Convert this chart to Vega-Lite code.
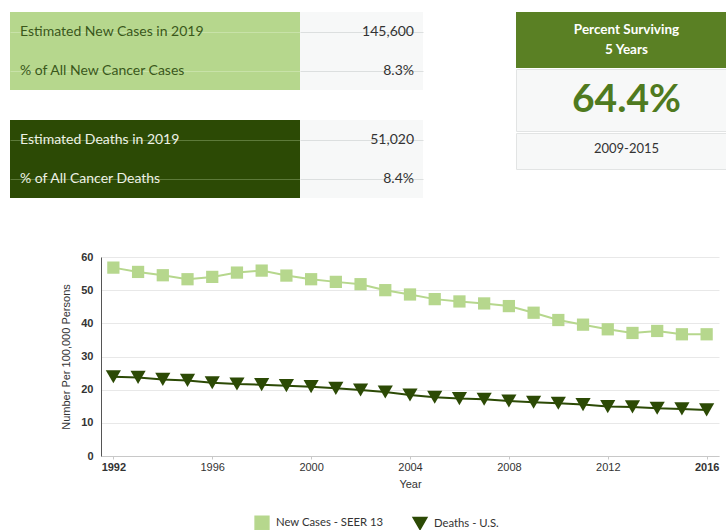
{
  "$schema": "https://vega.github.io/schema/vega-lite/v6.json",
  "background": "white",
  "padding": {"left": 10, "top": 12, "right": 0, "bottom": 0},
  "config": {"view": {"stroke": null}, "font": "Lato"},
  "datasets": {
    "cases": [
      {"label": "Estimated New Cases in 2019", "value": "145,600"},
      {"label": "% of All New Cancer Cases", "value": "8.3%"}
    ],
    "deaths": [
      {"label": "Estimated Deaths in 2019", "value": "51,020"},
      {"label": "% of All Cancer Deaths", "value": "8.4%"}
    ],
    "survival": [
      {"heading": "Percent Surviving\n5 Years", "rate": "64.4%", "period": "2009-2015"}
    ],
    "trend": [
      {"year": 1992, "series": "New Cases - SEER 13", "rate": 56.8},
      {"year": 1993, "series": "New Cases - SEER 13", "rate": 55.5},
      {"year": 1994, "series": "New Cases - SEER 13", "rate": 54.5},
      {"year": 1995, "series": "New Cases - SEER 13", "rate": 53.3},
      {"year": 1996, "series": "New Cases - SEER 13", "rate": 54.0},
      {"year": 1997, "series": "New Cases - SEER 13", "rate": 55.3},
      {"year": 1998, "series": "New Cases - SEER 13", "rate": 55.9},
      {"year": 1999, "series": "New Cases - SEER 13", "rate": 54.4},
      {"year": 2000, "series": "New Cases - SEER 13", "rate": 53.3},
      {"year": 2001, "series": "New Cases - SEER 13", "rate": 52.5},
      {"year": 2002, "series": "New Cases - SEER 13", "rate": 51.8},
      {"year": 2003, "series": "New Cases - SEER 13", "rate": 50.0},
      {"year": 2004, "series": "New Cases - SEER 13", "rate": 48.7},
      {"year": 2005, "series": "New Cases - SEER 13", "rate": 47.3},
      {"year": 2006, "series": "New Cases - SEER 13", "rate": 46.6},
      {"year": 2007, "series": "New Cases - SEER 13", "rate": 46.0},
      {"year": 2008, "series": "New Cases - SEER 13", "rate": 45.2},
      {"year": 2009, "series": "New Cases - SEER 13", "rate": 43.2},
      {"year": 2010, "series": "New Cases - SEER 13", "rate": 41.0},
      {"year": 2011, "series": "New Cases - SEER 13", "rate": 39.6},
      {"year": 2012, "series": "New Cases - SEER 13", "rate": 38.2},
      {"year": 2013, "series": "New Cases - SEER 13", "rate": 37.1},
      {"year": 2014, "series": "New Cases - SEER 13", "rate": 37.7},
      {"year": 2015, "series": "New Cases - SEER 13", "rate": 36.7},
      {"year": 2016, "series": "New Cases - SEER 13", "rate": 36.7},
      {"year": 1992, "series": "Deaths - U.S.", "rate": 23.9},
      {"year": 1993, "series": "Deaths - U.S.", "rate": 23.7},
      {"year": 1994, "series": "Deaths - U.S.", "rate": 23.1},
      {"year": 1995, "series": "Deaths - U.S.", "rate": 22.8},
      {"year": 1996, "series": "Deaths - U.S.", "rate": 22.1},
      {"year": 1997, "series": "Deaths - U.S.", "rate": 21.7},
      {"year": 1998, "series": "Deaths - U.S.", "rate": 21.5},
      {"year": 1999, "series": "Deaths - U.S.", "rate": 21.2},
      {"year": 2000, "series": "Deaths - U.S.", "rate": 20.9},
      {"year": 2001, "series": "Deaths - U.S.", "rate": 20.4},
      {"year": 2002, "series": "Deaths - U.S.", "rate": 19.9},
      {"year": 2003, "series": "Deaths - U.S.", "rate": 19.3},
      {"year": 2004, "series": "Deaths - U.S.", "rate": 18.4},
      {"year": 2005, "series": "Deaths - U.S.", "rate": 17.7},
      {"year": 2006, "series": "Deaths - U.S.", "rate": 17.3},
      {"year": 2007, "series": "Deaths - U.S.", "rate": 17.1},
      {"year": 2008, "series": "Deaths - U.S.", "rate": 16.6},
      {"year": 2009, "series": "Deaths - U.S.", "rate": 16.2},
      {"year": 2010, "series": "Deaths - U.S.", "rate": 15.9},
      {"year": 2011, "series": "Deaths - U.S.", "rate": 15.5},
      {"year": 2012, "series": "Deaths - U.S.", "rate": 14.9},
      {"year": 2013, "series": "Deaths - U.S.", "rate": 14.8},
      {"year": 2014, "series": "Deaths - U.S.", "rate": 14.4},
      {"year": 2015, "series": "Deaths - U.S.", "rate": 14.2},
      {"year": 2016, "series": "Deaths - U.S.", "rate": 13.9}
    ]
  },
  "spacing": 53,
  "vconcat": [
    {
      "spacing": 92,
      "hconcat": [
        {
          "spacing": 30,
          "vconcat": [
            {
              "spacing": 0,
              "hconcat": [
                {
                  "width": 290, "height": 78,
                  "data": {"name": "cases"},
                  "view": {"fill": "#b6d78d", "stroke": null},
                  "mark": {"type": "text", "align": "left", "baseline": "middle", "x": 0, "dx": 10, "fontSize": 14, "color": "#3a571b", "font": "Lato"},
                  "encoding": {
                    "y": {"field": "label", "type": "nominal", "sort": null, "scale": {"paddingInner": 0, "paddingOuter": 0},
                      "axis": {"title": null, "labels": false, "ticks": false, "domain": false, "grid": true, "gridColor": "#c8e2a8", "bandPosition": 1}},
                    "text": {"field": "label"}
                  }
                },
                {
                  "width": 123, "height": 78,
                  "data": {"name": "cases"},
                  "view": {"fill": "#f7f8f8", "stroke": null},
                  "mark": {"type": "text", "align": "right", "baseline": "middle", "x": 123, "dx": -9, "fontSize": 14, "color": "#333333", "font": "Lato"},
                  "encoding": {
                    "y": {"field": "label", "type": "nominal", "sort": null, "scale": {"paddingInner": 0, "paddingOuter": 0},
                      "axis": {"title": null, "labels": false, "ticks": false, "domain": false, "grid": true, "gridColor": "#dcdfdf", "bandPosition": 1}},
                    "text": {"field": "value"}
                  }
                }
              ]
            },
            {
              "spacing": 0,
              "hconcat": [
                {
                  "width": 290, "height": 78,
                  "data": {"name": "deaths"},
                  "view": {"fill": "#2c4a05", "stroke": null},
                  "mark": {"type": "text", "align": "left", "baseline": "middle", "x": 0, "dx": 10, "fontSize": 14, "color": "#eef2e6", "font": "Lato"},
                  "encoding": {
                    "y": {"field": "label", "type": "nominal", "sort": null, "scale": {"paddingInner": 0, "paddingOuter": 0},
                      "axis": {"title": null, "labels": false, "ticks": false, "domain": false, "grid": true, "gridColor": "#5d7a3a", "bandPosition": 1}},
                    "text": {"field": "label"}
                  }
                },
                {
                  "width": 123, "height": 78,
                  "data": {"name": "deaths"},
                  "view": {"fill": "#f7f8f8", "stroke": null},
                  "mark": {"type": "text", "align": "right", "baseline": "middle", "x": 123, "dx": -9, "fontSize": 14, "color": "#333333", "font": "Lato"},
                  "encoding": {
                    "y": {"field": "label", "type": "nominal", "sort": null, "scale": {"paddingInner": 0, "paddingOuter": 0},
                      "axis": {"title": null, "labels": false, "ticks": false, "domain": false, "grid": true, "gridColor": "#dcdfdf", "bandPosition": 1}},
                    "text": {"field": "value"}
                  }
                }
              ]
            }
          ]
        },
        {
          "spacing": 0,
          "vconcat": [
            {
              "width": 211, "height": 56,
              "data": {"name": "survival"},
              "view": {"fill": "#5a8024", "stroke": null},
              "mark": {"type": "text", "align": "center", "baseline": "middle", "dx": 5, "dy": -10, "lineBreak": "\n", "lineHeight": 20, "fontSize": 13.5, "fontWeight": "bold", "color": "#ffffff", "font": "Lato"},
              "encoding": {"text": {"field": "heading"}}
            },
            {
              "width": 211, "height": 62,
              "data": {"name": "survival"},
              "view": {"fill": "#f7f8f8", "stroke": "#e2e4e4"},
              "mark": {"type": "text", "align": "center", "baseline": "middle", "dx": 5, "dy": 0, "fontSize": 39, "fontWeight": "bold", "color": "#4f7a20", "font": "Lato"},
              "encoding": {"text": {"field": "rate"}}
            },
            {
              "width": 211, "height": 36,
              "data": {"name": "survival"},
              "view": {"fill": "#f7f8f8", "stroke": "#e2e4e4"},
              "mark": {"type": "text", "align": "center", "baseline": "middle", "dx": 5, "dy": -2, "fontSize": 13, "color": "#333333", "font": "Lato"},
              "encoding": {"text": {"field": "period"}}
            }
          ]
        }
      ]
    },
    {
      "spacing": 0,
      "hconcat": [
        {
          "width": 50, "height": 199,
          "data": {"values": []},
          "mark": "point"
        },
        {
          "width": 618, "height": 199,
          "data": {"name": "trend"},
          "encoding": {
            "x": {"field": "year", "type": "quantitative",
              "scale": {"domain": [1991.5, 2016.5], "nice": false, "zero": false},
              "axis": {"title": "Year", "values": [1992, 1996, 2000, 2004, 2008, 2012, 2016], "format": "d",
                "grid": false, "domainColor": "#c8c8c8", "ticks": true, "tickSize": 3, "tickColor": "#c8c8c8",
                "labelFont": "Liberation Sans", "labelFontSize": 11, "labelColor": "#333333", "labelPadding": 2,
                "labelFontWeight": {"condition": {"test": "datum.value === 1992 || datum.value === 2016", "value": "bold"}, "value": "normal"},
                "titleFont": "Liberation Sans", "titleFontSize": 11, "titleFontWeight": "normal", "titleColor": "#333333", "titlePadding": 6}},
            "y": {"field": "rate", "type": "quantitative",
              "scale": {"domain": [0, 60], "nice": false},
              "axis": {"title": "Number Per 100,000 Persons", "values": [0, 10, 20, 30, 40, 50, 60],
                "grid": true, "gridColor": "#e8e8e8", "domainColor": "#555555", "ticks": false,
                "labelFont": "Liberation Sans", "labelFontSize": 11, "labelFontWeight": "bold", "labelColor": "#333333", "labelPadding": 8,
                "titleFont": "Liberation Sans", "titleFontSize": 11, "titleFontWeight": "normal", "titleColor": "#333333", "titlePadding": 9}},
            "color": {"field": "series", "type": "nominal",
              "scale": {"domain": ["New Cases - SEER 13", "Deaths - U.S."], "range": ["#b6d78d", "#2c4a05"]},
              "legend": {"title": null, "orient": "none", "legendX": 244, "legendY": 503, "direction": "horizontal",
                "symbolSize": 190, "symbolOpacity": 1, "labelFont": "Lato", "labelFontSize": 11.3, "labelColor": "#333333", "columnPadding": 26, "labelOffset": 6}}
          },
          "layer": [
            {"mark": {"type": "line", "strokeWidth": 2}},
            {"mark": {"type": "point", "filled": true, "opacity": 1},
              "encoding": {
                "shape": {"field": "series", "type": "nominal",
                  "scale": {"domain": ["New Cases - SEER 13", "Deaths - U.S."], "range": ["square", "triangle-down"]},
                  "legend": {"title": null, "orient": "none", "legendX": 244, "legendY": 503, "direction": "horizontal",
                    "symbolSize": 190, "symbolOpacity": 1, "labelFont": "Lato", "labelFontSize": 11.3, "labelColor": "#333333", "columnPadding": 26, "labelOffset": 6}},
                "size": {"condition": {"test": "datum.series === 'Deaths - U.S.'", "value": 230}, "value": 150}
              }}
          ]
        }
      ]
    }
  ]
}
